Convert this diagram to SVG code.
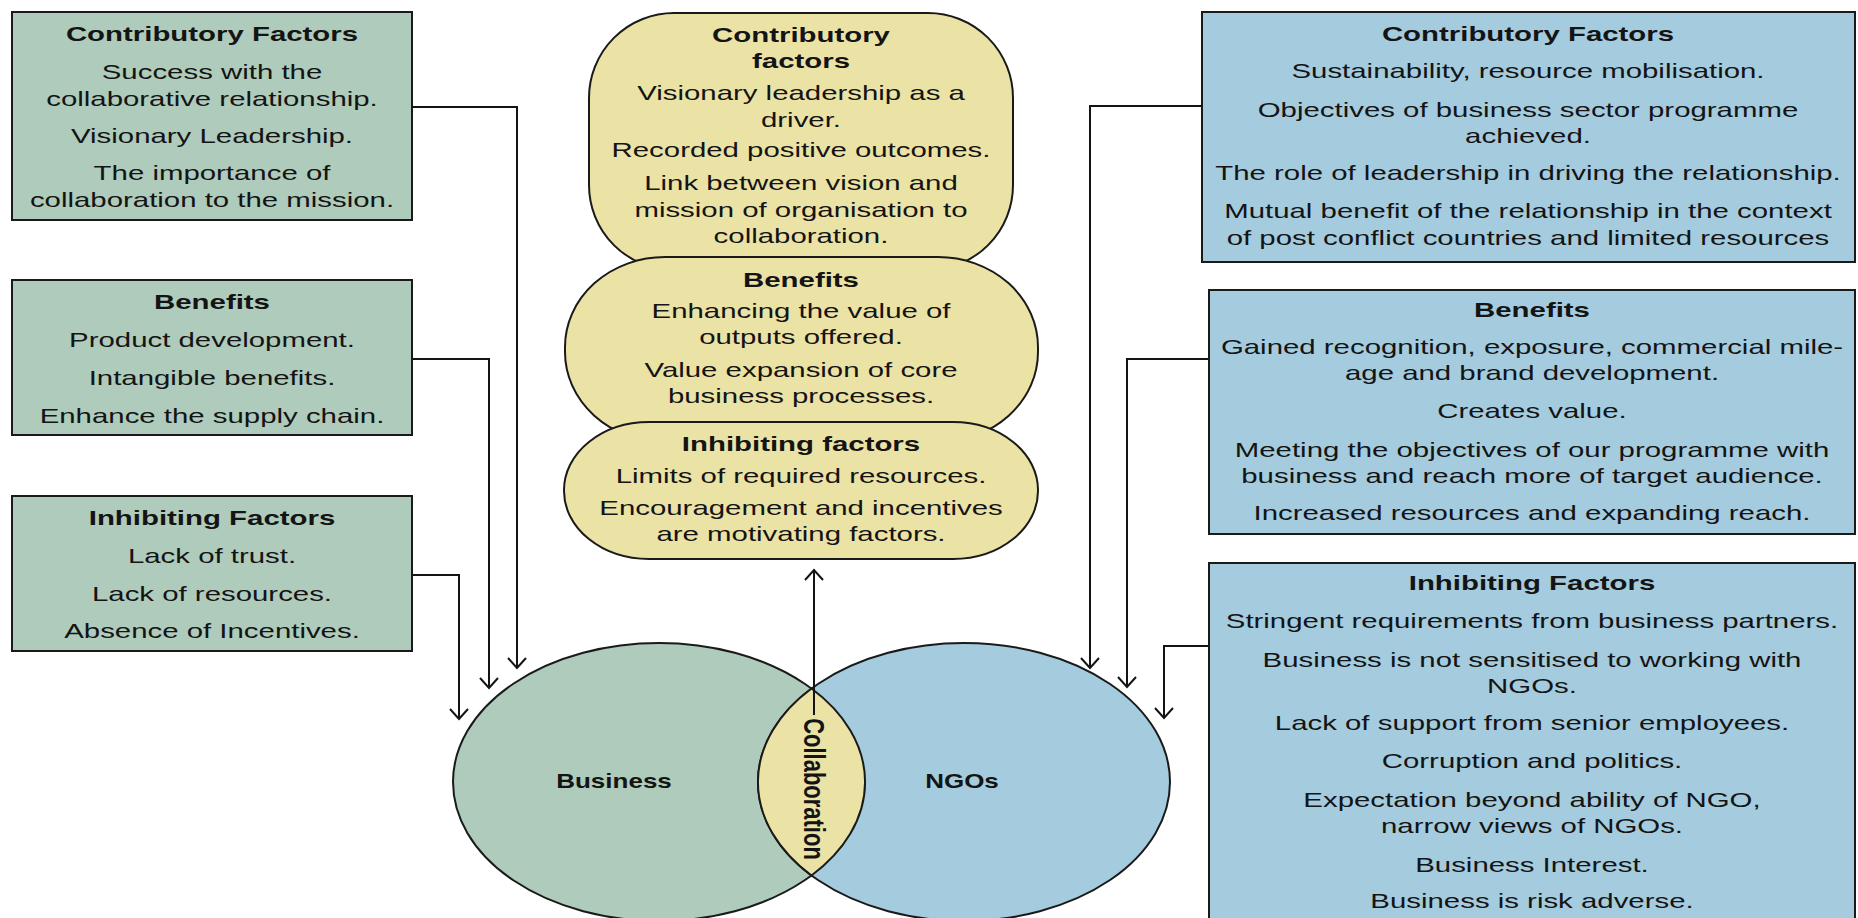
<svg xmlns="http://www.w3.org/2000/svg" width="1858" height="918" viewBox="0 0 1858 918">
<style>
.g{fill:#aecbbb;stroke:#1a1a1a;stroke-width:2}
.bl{fill:#a5cbde;stroke:#1a1a1a;stroke-width:2}
.y{fill:#ebe2a6;stroke:#1a1a1a;stroke-width:2}
text{font-family:"Liberation Sans",Arial,sans-serif;font-size:21px;fill:#141414;text-anchor:middle}
.b{font-weight:bold}
.c{fill:none;stroke:#141414;stroke-width:2}
</style>
<defs>
<marker id="arr" viewBox="-12 -11 14 22" refX="0" refY="0" markerWidth="14" markerHeight="22" markerUnits="userSpaceOnUse" orient="auto">
<path d="M-10,-9 L0,0 L-10,9" fill="none" stroke="#141414" stroke-width="2"/>
</marker>
</defs>
<rect width="1858" height="918" fill="#ffffff"/>

<g id="venn-business">
<ellipse class="g" cx="659" cy="782" rx="206" ry="139"/>
</g>
<g id="venn-ngos">
<ellipse class="bl" cx="964" cy="782" rx="206" ry="139"/>
</g>
<g id="venn-collaboration">
<path class="y" d="M811.5,688.5 A206,139 0 0 0 811.5,875.5 A206,139 0 0 0 811.5,688.5 Z"/>
</g>
<g id="label-business" transform="translate(614 0) scale(1.3 1)"><text class="b" style="font-size:20px" y="788">Business</text></g>
<g id="label-ngos" transform="translate(962 0) scale(1.3 1)"><text class="b" style="font-size:20px" y="788">NGOs</text></g>
<g id="label-collab" transform="translate(804 789) rotate(90) scale(1 1.3)"><text class="b" style="font-size:22px" x="0" y="0">Collaboration</text></g>

<g id="left-contributory">
<rect class="g" x="12" y="12" width="400" height="208"/>
<g transform="translate(212 0) scale(1.4 1)">
<text class="b" y="41">Contributory Factors</text>
<text y="79">Success with the</text>
<text y="106">collaborative relationship.</text>
<text y="143">Visionary Leadership.</text>
<text y="180">The importance of</text>
<text y="207">collaboration to the mission.</text>
</g>
</g>

<g id="left-benefits">
<rect class="g" x="12" y="280" width="400" height="155"/>
<g transform="translate(212 0) scale(1.4 1)">
<text class="b" y="309">Benefits</text>
<text y="347">Product development.</text>
<text y="385">Intangible benefits.</text>
<text y="423">Enhance the supply chain.</text>
</g>
</g>

<g id="left-inhibiting">
<rect class="g" x="12" y="496" width="400" height="155"/>
<g transform="translate(212 0) scale(1.4 1)">
<text class="b" y="525">Inhibiting Factors</text>
<text y="563">Lack of trust.</text>
<text y="601">Lack of resources.</text>
<text y="638">Absence of Incentives.</text>
</g>
</g>

<g id="center-contributory">
<rect class="y" x="589" y="13" width="424" height="257" rx="85" ry="85"/>
<g transform="translate(801 0) scale(1.4 1)">
<text class="b" y="42">Contributory</text>
<text class="b" y="68">factors</text>
<text y="100">Visionary leadership as a</text>
<text y="127">driver.</text>
<text y="157">Recorded positive outcomes.</text>
<text y="190">Link between vision and</text>
<text y="217">mission of organisation to</text>
<text y="243">collaboration.</text>
</g>
</g>

<g id="center-benefits">
<rect class="y" x="565" y="257" width="473" height="185" rx="100" ry="90"/>
<g transform="translate(801 0) scale(1.4 1)">
<text class="b" y="287">Benefits</text>
<text y="318">Enhancing the value of</text>
<text y="344">outputs offered.</text>
<text y="377">Value expansion of core</text>
<text y="403">business processes.</text>
</g>
</g>

<g id="center-inhibiting">
<rect class="y" x="564" y="422" width="474" height="137" rx="85" ry="68"/>
<g transform="translate(801 0) scale(1.4 1)">
<text class="b" y="451">Inhibiting factors</text>
<text y="483">Limits of required resources.</text>
<text y="515">Encouragement and incentives</text>
<text y="541">are motivating factors.</text>
</g>
</g>

<g id="right-contributory">
<rect class="bl" x="1202" y="12" width="653" height="250"/>
<g transform="translate(1528 0) scale(1.4 1)">
<text class="b" y="41">Contributory Factors</text>
<text y="78">Sustainability, resource mobilisation.</text>
<text y="117">Objectives of business sector programme</text>
<text y="143">achieved.</text>
<text y="180">The role of leadership in driving the relationship.</text>
<text y="218">Mutual benefit of the relationship in the context</text>
<text y="245">of post conflict countries and limited resources</text>
</g>
</g>

<g id="right-benefits">
<rect class="bl" x="1209" y="290" width="646" height="244"/>
<g transform="translate(1532 0) scale(1.4 1)">
<text class="b" y="317">Benefits</text>
<text y="354">Gained recognition, exposure, commercial mile-</text>
<text y="380">age and brand development.</text>
<text y="418">Creates value.</text>
<text y="457">Meeting the objectives of our programme with</text>
<text y="483">business and reach more of target audience.</text>
<text y="520">Increased resources and expanding reach.</text>
</g>
</g>

<g id="right-inhibiting">
<rect class="bl" x="1209" y="563" width="646" height="380"/>
<g transform="translate(1532 0) scale(1.4 1)">
<text class="b" y="590">Inhibiting Factors</text>
<text y="628">Stringent requirements from business partners.</text>
<text y="667">Business is not sensitised to working with</text>
<text y="693">NGOs.</text>
<text y="730">Lack of support from senior employees.</text>
<text y="768">Corruption and politics.</text>
<text y="807">Expectation beyond ability of NGO,</text>
<text y="833">narrow views of NGOs.</text>
<text y="872">Business Interest.</text>
<text y="908">Business is risk adverse.</text>
</g>
</g>

<g id="connectors">
<path class="c" d="M412,107 H517 V668" marker-end="url(#arr)"/>
<path class="c" d="M412,359 H489 V688" marker-end="url(#arr)"/>
<path class="c" d="M412,575 H459 V719" marker-end="url(#arr)"/>
<path class="c" d="M1202,106 H1090 V668" marker-end="url(#arr)"/>
<path class="c" d="M1209,359 H1127 V687" marker-end="url(#arr)"/>
<path class="c" d="M1209,646 H1164 V718" marker-end="url(#arr)"/>
<path class="c" d="M814,715 V570" marker-end="url(#arr)"/>
</g>
</svg>
